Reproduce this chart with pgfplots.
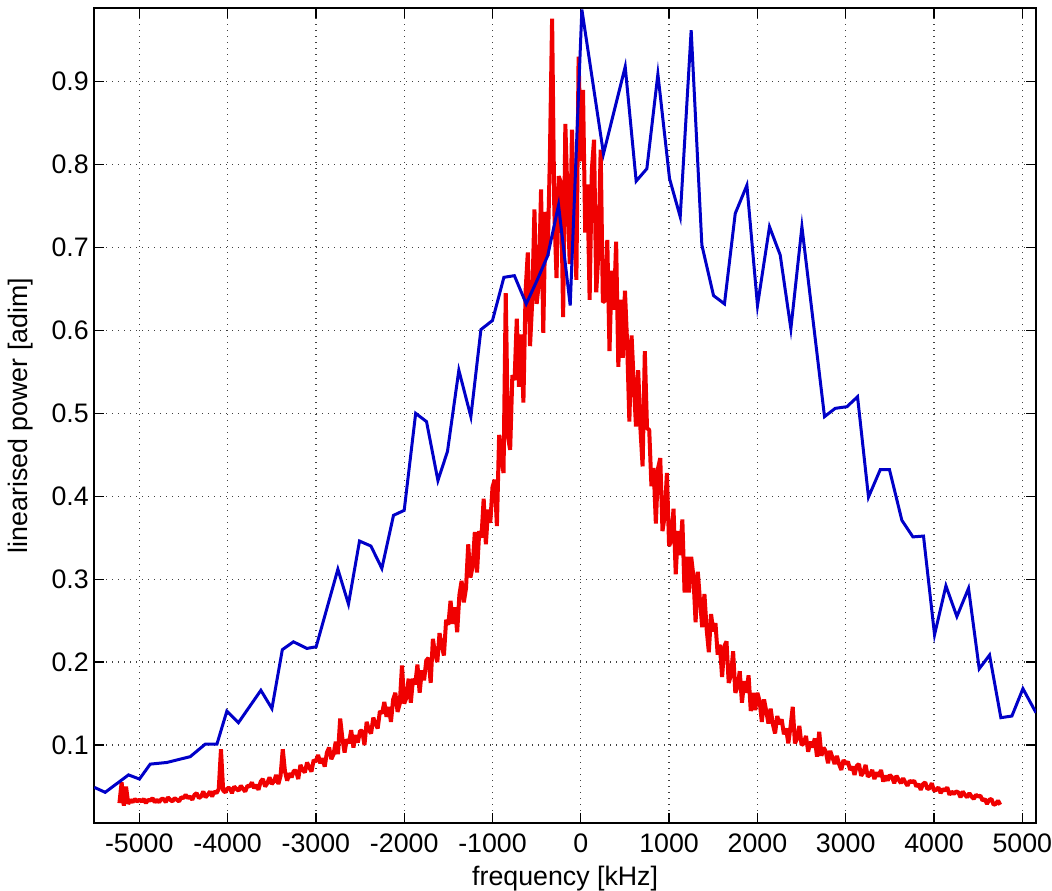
\documentclass[border=0pt]{standalone}
\usepackage{fontspec}
\setmainfont{Liberation Sans}
\usepackage{pgfplots}
\pgfplotsset{compat=1.18}
\usetikzlibrary{calc}

\definecolor{mblue}{RGB}{0,0,200}
\definecolor{mred}{RGB}{240,0,0}

\begin{document}
\fontsize{10.7}{12}\selectfont
\begin{tikzpicture}
\begin{axis}[
    name=ax,
    scale only axis,
    width=376.7pt, height=325.8pt,
    xmin=-5510, xmax=5155,
    ymin=0.0063, ymax=0.9885,
    xtick={-5000,-4000,-3000,-2000,-1000,0,1000,2000,3000,4000,5000},
    xticklabels={-5000,-4000,-3000,-2000,-1000,0,1000,2000,3000,4000,5000},
    ytick={0.1,0.2,0.3,0.4,0.5,0.6,0.7,0.8,0.9},
    yticklabels={0.1,0.2,0.3,0.4,0.5,0.6,0.7,0.8,0.9},
    grid=major,
    grid style={dotted, line width=0.5pt, black!75},
    tick align=inside,
    major tick length=4pt,
    tick style={black, line width=0.5pt},
    axis line style={line width=0.6pt},
    xtick pos=both, ytick pos=both,
    xticklabel pos=lower, yticklabel pos=left,
    xticklabel style={anchor=base, yshift=-12pt, inner sep=0pt},
    yticklabel style={anchor=east, xshift=-2pt, inner sep=0pt},
    xlabel={frequency [kHz]},
    ylabel={linearised power [adim]},
    xlabel style={at={(axis description cs:0.5,-0.0773)}, anchor=base},
    ylabel style={at={(axis description cs:-0.0711,0.5)}, anchor=base},
]
% measured spectrum (dense)
\addplot[mred, line width=1.6pt, line join=bevel] coordinates {
(-5225,0.030) (-5200,0.055) (-5175,0.027) (-5150,0.050) (-5125,0.029) (-5100,0.034) (-5075,0.031) (-5050,0.035) (-5025,0.032) (-5000,0.034)
(-4975,0.032) (-4950,0.035) (-4925,0.030) (-4900,0.034) (-4875,0.033) (-4850,0.036) (-4825,0.031) (-4800,0.034) (-4775,0.031) (-4750,0.035)
(-4725,0.035) (-4700,0.031) (-4675,0.037) (-4650,0.034) (-4625,0.032) (-4600,0.036) (-4575,0.034) (-4550,0.032) (-4525,0.037) (-4500,0.036)
(-4475,0.040) (-4450,0.036) (-4425,0.038) (-4400,0.034) (-4375,0.040) (-4350,0.042) (-4325,0.036) (-4300,0.038) (-4275,0.044) (-4250,0.037)
(-4225,0.040) (-4200,0.044) (-4175,0.038) (-4150,0.044) (-4125,0.042) (-4100,0.047) (-4075,0.095) (-4050,0.045) (-4025,0.043) (-4000,0.048)
(-3975,0.048) (-3950,0.042) (-3925,0.050) (-3900,0.047) (-3875,0.045) (-3850,0.051) (-3825,0.047) (-3800,0.044) (-3775,0.051) (-3750,0.050)
(-3725,0.055) (-3700,0.048) (-3675,0.052) (-3650,0.046) (-3625,0.056) (-3600,0.059) (-3575,0.050) (-3550,0.054) (-3525,0.061) (-3500,0.053)
(-3475,0.056) (-3450,0.064) (-3425,0.053) (-3400,0.063) (-3375,0.095) (-3350,0.068) (-3325,0.057) (-3300,0.066) (-3275,0.061) (-3250,0.069)
(-3225,0.069) (-3200,0.059) (-3175,0.076) (-3150,0.070) (-3125,0.067) (-3100,0.079) (-3075,0.073) (-3050,0.068) (-3025,0.082) (-3000,0.080)
(-2975,0.088) (-2950,0.078) (-2925,0.084) (-2900,0.074) (-2875,0.091) (-2850,0.097) (-2825,0.083) (-2800,0.089) (-2775,0.104) (-2750,0.089)
(-2725,0.132) (-2700,0.108) (-2675,0.091) (-2650,0.107) (-2625,0.102) (-2600,0.118) (-2575,0.097) (-2550,0.112) (-2525,0.103) (-2500,0.117)
(-2475,0.117) (-2450,0.100) (-2425,0.128) (-2400,0.118) (-2375,0.114) (-2350,0.133) (-2325,0.126) (-2300,0.120) (-2275,0.141) (-2250,0.138)
(-2225,0.152) (-2200,0.134) (-2175,0.146) (-2150,0.128) (-2125,0.155) (-2100,0.163) (-2075,0.140) (-2050,0.150) (-2025,0.196) (-2000,0.150)
(-1975,0.157) (-1950,0.180) (-1925,0.151) (-1900,0.180) (-1875,0.173) (-1850,0.197) (-1825,0.163) (-1800,0.190) (-1775,0.178) (-1750,0.202)
(-1725,0.205) (-1700,0.175) (-1675,0.228) (-1650,0.210) (-1625,0.200) (-1600,0.235) (-1575,0.220) (-1550,0.208) (-1525,0.251) (-1500,0.245)
(-1475,0.274) (-1450,0.246) (-1425,0.266) (-1400,0.236) (-1375,0.281) (-1350,0.298) (-1325,0.272) (-1300,0.289) (-1275,0.342) (-1250,0.302)
(-1225,0.315) (-1200,0.357) (-1175,0.308) (-1150,0.358) (-1125,0.350) (-1100,0.397) (-1075,0.342) (-1050,0.384) (-1025,0.368) (-1000,0.411)
(-975,0.420) (-950,0.364) (-925,0.474) (-900,0.448) (-875,0.428) (-850,0.645) (-825,0.472) (-800,0.456) (-775,0.546) (-750,0.540)
(-725,0.614) (-700,0.532) (-675,0.595) (-650,0.513) (-625,0.648) (-600,0.694) (-575,0.581) (-550,0.635) (-525,0.746) (-500,0.632)
(-475,0.657) (-450,0.770) (-425,0.597) (-400,0.743) (-375,0.690) (-350,0.810) (-325,0.976) (-300,0.745) (-275,0.663) (-250,0.786)
(-225,0.778) (-200,0.616) (-175,0.849) (-150,0.759) (-125,0.680) (-100,0.842) (-75,0.727) (-50,0.661) (-25,0.930) (0,0.804)
(25,0.890) (50,0.718) (75,0.776) (100,0.637) (125,0.794) (150,0.830) (175,0.646) (200,0.694) (225,0.818) (250,0.634)
(275,0.636) (300,0.709) (325,0.575) (350,0.672) (375,0.625) (400,0.707) (425,0.556) (450,0.637) (475,0.567) (500,0.648)
(525,0.584) (550,0.490) (575,0.594) (600,0.536) (625,0.484) (650,0.552) (675,0.482) (700,0.436) (725,0.575) (750,0.482)
(775,0.480) (800,0.412) (825,0.434) (850,0.367) (875,0.434) (900,0.446) (925,0.358) (950,0.376) (975,0.428) (1000,0.340)
(1025,0.347) (1050,0.385) (1075,0.306) (1100,0.358) (1125,0.329) (1150,0.372) (1175,0.284) (1200,0.327) (1225,0.284) (1250,0.327)
(1275,0.304) (1300,0.248) (1325,0.309) (1350,0.274) (1375,0.242) (1400,0.282) (1425,0.240) (1450,0.212) (1475,0.258) (1500,0.237)
(1525,0.247) (1550,0.209) (1575,0.221) (1600,0.182) (1625,0.219) (1650,0.225) (1675,0.175) (1700,0.184) (1725,0.213) (1750,0.163)
(1775,0.170) (1800,0.189) (1825,0.151) (1850,0.177) (1875,0.163) (1900,0.184) (1925,0.141) (1950,0.163) (1975,0.142) (2000,0.163)
(2025,0.153) (2050,0.128) (2075,0.155) (2100,0.141) (2125,0.126) (2150,0.144) (2175,0.125) (2200,0.114) (2225,0.135) (2250,0.125)
(2275,0.131) (2300,0.113) (2325,0.120) (2350,0.102) (2375,0.122) (2400,0.146) (2425,0.102) (2450,0.108) (2475,0.123) (2500,0.100)
(2525,0.102) (2550,0.111) (2575,0.092) (2600,0.104) (2625,0.097) (2650,0.108) (2675,0.086) (2700,0.116) (2725,0.087) (2750,0.097)
(2775,0.092) (2800,0.078) (2825,0.093) (2850,0.085) (2875,0.077) (2900,0.087) (2925,0.077) (2950,0.070) (2975,0.082) (3000,0.077)
(3025,0.080) (3050,0.070) (3075,0.074) (3100,0.064) (3125,0.075) (3150,0.077) (3175,0.063) (3200,0.067) (3225,0.076) (3250,0.062)
(3275,0.064) (3300,0.070) (3325,0.059) (3350,0.067) (3375,0.062) (3400,0.070) (3425,0.056) (3450,0.063) (3475,0.057) (3500,0.064)
(3525,0.061) (3550,0.054) (3575,0.063) (3600,0.058) (3625,0.054) (3650,0.060) (3675,0.055) (3700,0.051) (3725,0.057) (3750,0.055)
(3775,0.057) (3800,0.050) (3825,0.053) (3850,0.046) (3875,0.053) (3900,0.055) (3925,0.047) (3950,0.048) (3975,0.054) (4000,0.045)
(4025,0.046) (4050,0.049) (4075,0.042) (4100,0.047) (4125,0.045) (4150,0.049) (4175,0.040) (4200,0.044) (4225,0.041) (4250,0.044)
(4275,0.043) (4300,0.037) (4325,0.044) (4350,0.040) (4375,0.037) (4400,0.042) (4425,0.038) (4450,0.035) (4475,0.040) (4500,0.038)
(4525,0.039) (4550,0.033) (4575,0.035) (4600,0.029) (4625,0.034) (4650,0.035) (4675,0.028) (4700,0.029) (4725,0.033) (4750,0.028)
};
% model spectrum (coarse)
\addplot[mblue, line width=1.2pt] coordinates {
(-5510,0.049) (-5386,0.043) (-5122,0.064) (-4998,0.059) (-4876,0.077) (-4688,0.079)
(-4423,0.086) (-4254,0.101) (-4121,0.101) (-4008,0.141) (-3877,0.127) (-3623,0.166)
(-3498,0.144) (-3380,0.215) (-3254,0.2245) (-3102,0.2165) (-2997,0.2185) (-2751,0.312)
(-2631,0.270) (-2506,0.346) (-2377,0.340) (-2253,0.313) (-2121,0.377) (-2000,0.383)
(-1870,0.500) (-1747,0.490) (-1618,0.419) (-1510,0.454) (-1381,0.552) (-1245,0.496)
(-1131,0.601) (-1000,0.612) (-871,0.664) (-752,0.666) (-618,0.632) (-497,0.660)
(-375,0.690) (-252,0.751) (-120,0.630) (12,0.987) (257,0.813) (503,0.918)
(627,0.780) (748,0.795) (873,0.909) (1005,0.783) (1126,0.737) (1250,0.962)
(1371,0.703) (1503,0.642) (1627,0.632) (1749,0.741) (1881,0.775) (2001,0.630)
(2137,0.725) (2258,0.691) (2379,0.602) (2504,0.725) (2760,0.496) (2881,0.506)
(3014,0.508) (3134,0.520) (3258,0.399) (3391,0.432) (3496,0.432) (3636,0.371)
(3761,0.351) (3881,0.352) (4006,0.233) (4135,0.292) (4259,0.255) (4391,0.289)
(4512,0.192) (4629,0.2085) (4757,0.133) (4882,0.135) (5007,0.168) (5155,0.139)
};
\end{axis}
\pgfresetboundingbox
\path ($(ax.south west)+(-37.7pt,-27.3pt)$) rectangle ($(ax.north east)+(6.4pt,3.3pt)$);
\end{tikzpicture}
\end{document}
